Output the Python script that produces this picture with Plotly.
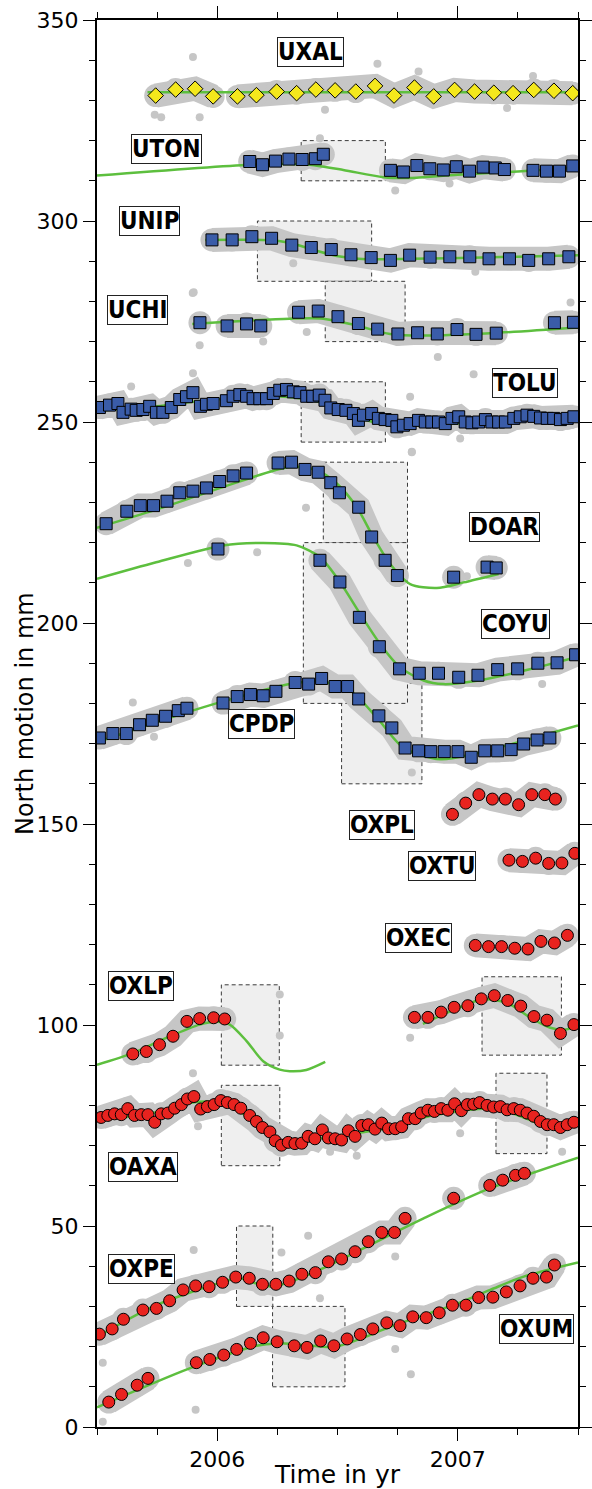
import plotly.graph_objects as go

# ---------------- data (time in yr, north motion in mm) ----------------
uxal_t = [2005.744, 2005.827, 2005.908, 2005.983, 2006.084, 2006.163, 2006.247, 2006.330, 2006.410, 2006.490, 2006.576,
          2006.656, 2006.735, 2006.820, 2006.900, 2006.987, 2007.070, 2007.150, 2007.230, 2007.316, 2007.400, 2007.478]
uxal_v = [331.2, 332.7, 332.9, 331.0, 331.0, 331.3, 332.2, 331.8, 332.7, 332.5, 332.2,
          333.6, 331.2, 333.2, 331.0, 332.6, 332.2, 331.9, 331.8, 332.6, 332.4, 331.8]
uxal_fit_t = [2005.71, 2007.5]
uxal_fit_v = [332.0, 332.0]

uton_t = [2006.135, 2006.188, 2006.242, 2006.298, 2006.353, 2006.408, 2006.441, 2006.720, 2006.774, 2006.830, 2006.884,
          2006.940, 2006.994, 2007.049, 2007.105, 2007.156, 2007.194, 2007.313, 2007.369, 2007.423, 2007.478]
uton_v = [314.8, 314.0, 314.9, 315.4, 315.3, 315.5, 316.6, 312.6, 312.2, 313.8, 313.0,
          312.7, 313.5, 312.4, 313.4, 313.2, 312.8, 312.6, 312.4, 312.4, 313.7]
uton_fit_t = [2005.5, 2006.135, 2006.30, 2006.385, 2006.524, 2006.691, 2006.81, 2007.00, 2007.25, 2007.5]
uton_fit_v = [311.3, 314.0, 314.2, 314.0, 312.7, 310.9, 310.7, 311.5, 312.3, 313.3]

unip_t = [2005.978, 2006.062, 2006.144, 2006.226, 2006.310, 2006.391, 2006.474, 2006.556, 2006.640, 2006.720,
          2006.800, 2006.885, 2006.967, 2007.050, 2007.130, 2007.215, 2007.295, 2007.378, 2007.462]
unip_v = [295.3, 295.3, 296.1, 295.7, 294.0, 293.4, 292.9, 291.6, 290.9, 290.2,
          291.5, 291.0, 291.1, 291.1, 290.6, 290.6, 290.2, 290.6, 291.1]
unip_fit_t = [2005.95, 2006.247, 2006.33, 2006.413, 2006.497, 2006.62, 2006.80, 2007.10, 2007.5]
unip_fit_v = [295.3, 295.1, 294.1, 292.6, 291.3, 290.5, 290.6, 290.9, 291.5]

uchi_t = [2005.928, 2006.041, 2006.122, 2006.181, 2006.338, 2006.420, 2006.502, 2006.587, 2006.667, 2006.751,
          2006.833, 2006.915, 2006.997, 2007.076, 2007.160, 2007.402, 2007.481]
uchi_v = [274.7, 273.9, 274.4, 273.9, 277.3, 277.6, 276.2, 274.5, 273.1, 271.9,
          272.2, 271.9, 273.0, 271.8, 272.1, 274.7, 274.8]
uchi_fit_t = [2005.896, 2006.30, 2006.441, 2006.58, 2006.719, 2006.858, 2007.17, 2007.5]
uchi_fit_v = [274.4, 275.7, 275.7, 274.0, 271.9, 271.5, 272.2, 273.5]

tolu_t = [2005.510, 2005.552, 2005.587, 2005.608, 2005.642, 2005.663, 2005.691, 2005.719, 2005.747, 2005.774,
          2005.809, 2005.844, 2005.872, 2005.899, 2005.930, 2005.955, 2005.983, 2006.038, 2006.066, 2006.094,
          2006.122, 2006.149, 2006.177, 2006.205, 2006.233, 2006.260, 2006.288, 2006.316, 2006.344, 2006.372,
          2006.397, 2006.424, 2006.448, 2006.472, 2006.503, 2006.535, 2006.566, 2006.587, 2006.608, 2006.642,
          2006.670, 2006.698, 2006.726, 2006.747, 2006.774, 2006.802, 2006.837, 2006.865, 2006.892, 2006.920,
          2006.948, 2006.976, 2007.004, 2007.031, 2007.059, 2007.087, 2007.115, 2007.142, 2007.170, 2007.198,
          2007.233, 2007.260, 2007.288, 2007.316, 2007.344, 2007.372, 2007.399, 2007.427, 2007.455, 2007.483]
tolu_v = [253.6, 254.2, 254.6, 252.4, 253.2, 252.9, 253.1, 253.9, 252.4, 252.4,
          253.6, 255.6, 256.3, 257.3, 253.9, 254.4, 254.6, 255.3, 256.4, 256.8,
          256.4, 255.8, 255.8, 255.8, 257.1, 257.9, 258.1, 257.5, 257.3, 256.4,
          256.4, 256.7, 255.4, 253.5, 253.1, 252.9, 252.1, 250.4, 251.7, 252.1,
          250.9, 250.6, 250.4, 248.8, 249.2, 249.6, 250.4, 250.0, 250.0, 250.0,
          249.6, 250.9, 251.3, 250.0, 249.8, 250.0, 250.6, 250.0, 250.0, 250.0,
          250.9, 251.3, 251.7, 251.4, 251.0, 250.9, 250.9, 250.6, 250.9, 251.3]
tolu_fit_t = [2005.5, 2005.747, 2005.955, 2006.233, 2006.358, 2006.469, 2006.580, 2006.691, 2006.788, 2006.997, 2007.274, 2007.5]
tolu_fit_v = [252.8, 253.9, 255.4, 256.4, 255.8, 254.2, 251.3, 249.4, 249.1, 249.6, 250.9, 252.1]

doar_t = [2005.538, 2005.624, 2005.680, 2005.735, 2005.791, 2005.844, 2005.899, 2005.955, 2006.010, 2006.066,
          2006.122, 2006.253, 2006.309, 2006.365, 2006.420, 2006.472, 2006.508, 2006.588, 2006.642, 2006.698,
          2006.749, 2006.983, 2007.122, 2007.160]
doar_v = [224.7, 227.8, 229.2, 229.2, 230.3, 232.4, 232.8, 233.6, 235.2, 236.6,
          237.3, 239.8, 240.0, 238.2, 237.5, 234.9, 232.4, 228.8, 221.4, 215.6,
          211.8, 211.4, 213.9, 213.7]
doar_fit_t = [2005.5, 2005.746, 2006.024, 2006.302, 2006.413, 2006.497, 2006.580, 2006.649, 2006.719, 2006.802, 2006.913, 2007.024, 2007.170]
doar_fit_v = [223.7, 228.2, 233.8, 238.8, 238.0, 234.7, 228.8, 221.4, 214.7, 209.7, 208.7, 210.1, 212.2]

coyu_t = [2006.003, 2006.427, 2006.510, 2006.591, 2006.674, 2006.758, 2006.840, 2006.920, 2007.004, 2007.084,
          2007.166, 2007.249, 2007.333, 2007.413, 2007.490]
coyu_v = [218.4, 215.6, 210.2, 201.4, 194.1, 188.6, 187.5, 187.5, 186.5, 187.0,
          188.4, 188.6, 190.0, 190.1, 192.1]
coyu_fit_t = [2005.5, 2005.746, 2006.024, 2006.191, 2006.330, 2006.427, 2006.510, 2006.594, 2006.677, 2006.760, 2006.858, 2006.941, 2007.066, 2007.274, 2007.5]
coyu_fit_v = [211.0, 215.1, 219.3, 219.9, 219.3, 216.4, 210.2, 202.3, 194.8, 189.0, 185.7, 184.8, 185.5, 188.1, 191.6]

cpdp_t = [2005.510, 2005.566, 2005.622, 2005.677, 2005.730, 2005.785, 2005.838, 2005.874, 2006.024, 2006.083,
          2006.138, 2006.191, 2006.244, 2006.324, 2006.380, 2006.434, 2006.490, 2006.542, 2006.588, 2006.672,
          2006.726, 2006.781, 2006.837, 2006.888, 2006.944, 2007.001, 2007.056, 2007.112, 2007.166, 2007.222,
          2007.274, 2007.330, 2007.383]
cpdp_v = [171.4, 172.5, 172.5, 174.7, 175.8, 176.8, 178.2, 178.8, 180.1, 181.7,
          182.2, 181.9, 183.0, 185.2, 184.8, 186.2, 184.2, 184.2, 181.1, 176.9,
          173.9, 168.9, 168.2, 168.0, 168.0, 168.0, 166.6, 168.2, 168.2, 168.5,
          169.9, 170.9, 171.4]
cpdp_fit_t = [2005.5, 2005.746, 2006.024, 2006.302, 2006.427, 2006.552, 2006.663, 2006.774, 2006.927, 2007.066, 2007.274, 2007.5]
cpdp_fit_v = [170.3, 175.3, 180.5, 184.8, 185.5, 183.2, 176.5, 169.0, 166.1, 167.4, 170.7, 174.5]

oxpl_t = [2006.978, 2007.033, 2007.088, 2007.144, 2007.198, 2007.253, 2007.308, 2007.362, 2007.406]
oxpl_v = [152.4, 155.2, 157.3, 156.2, 156.2, 154.8, 157.3, 157.3, 156.2]

oxtu_t = [2007.213, 2007.269, 2007.324, 2007.378, 2007.433, 2007.487]
oxtu_v = [141.0, 140.7, 141.5, 140.2, 140.3, 142.7]

oxec_t = [2007.073, 2007.128, 2007.182, 2007.237, 2007.292, 2007.346, 2007.402, 2007.456]
oxec_v = [119.8, 119.5, 119.5, 119.1, 118.9, 120.8, 120.4, 122.3]

oxlp_t = [2005.649, 2005.705, 2005.760, 2005.816, 2005.874, 2005.927, 2005.985, 2006.031,
          2006.820, 2006.876, 2006.931, 2006.985, 2007.042, 2007.098, 2007.152, 2007.208, 2007.262,
          2007.317, 2007.371, 2007.427, 2007.483]
oxlp_v = [92.8, 93.4, 95.1, 97.2, 100.9, 101.6, 101.8, 101.5,
          101.9, 101.9, 103.2, 104.4, 104.8, 106.5, 107.3, 106.1, 104.7,
          102.1, 101.2, 97.9, 100.1]
oxlp_fit1_t = [2005.5, 2005.649, 2005.788, 2005.927, 2005.997, 2006.052, 2006.122, 2006.191, 2006.260, 2006.302, 2006.370, 2006.449]
oxlp_fit1_v = [90.1, 93.0, 96.8, 100.1, 100.8, 100.1, 96.0, 91.0, 88.9, 88.5, 88.8, 90.8]
oxlp_fit2_t = [2006.855, 2006.969, 2007.094, 2007.149, 2007.219, 2007.302, 2007.385, 2007.441, 2007.5]
oxlp_fit2_v = [100.3, 103.4, 106.3, 106.3, 105.1, 101.8, 99.3, 98.8, 99.7]

oaxa_t = [2005.517, 2005.545, 2005.573, 2005.601, 2005.628, 2005.656, 2005.684, 2005.712, 2005.740, 2005.767,
          2005.795, 2005.823, 2005.851, 2005.876, 2005.903, 2005.931, 2005.959, 2005.987, 2006.015, 2006.042,
          2006.070, 2006.098, 2006.135, 2006.163, 2006.188, 2006.219, 2006.241, 2006.267, 2006.295, 2006.323,
          2006.351, 2006.378, 2006.406, 2006.437, 2006.462, 2006.490, 2006.517, 2006.545, 2006.573, 2006.601,
          2006.628, 2006.656, 2006.684, 2006.712, 2006.740, 2006.767, 2006.795, 2006.823, 2006.848, 2006.876,
          2006.903, 2006.931, 2006.959, 2006.987, 2007.015, 2007.040, 2007.066, 2007.091, 2007.122, 2007.149,
          2007.177, 2007.205, 2007.233, 2007.260, 2007.288, 2007.316, 2007.344, 2007.372, 2007.399, 2007.427,
          2007.455, 2007.483]
oaxa_v = [77.0, 77.5, 77.9, 77.7, 79.2, 77.5, 77.7, 77.7, 75.8, 77.9,
          78.1, 79.3, 80.2, 81.6, 82.2, 79.1, 79.7, 80.2, 81.2, 80.7,
          80.2, 79.3, 77.5, 76.0, 74.5, 73.4, 71.2, 70.1, 70.8, 70.5,
          70.6, 72.3, 71.7, 73.9, 71.9, 71.7, 71.4, 73.7, 72.3, 75.0,
          75.2, 74.1, 75.6, 74.2, 74.2, 74.7, 76.7, 76.7, 78.1, 78.8,
          78.5, 79.2, 78.8, 80.4, 78.7, 80.2, 80.3, 80.7, 80.0, 79.6,
          79.7, 78.9, 79.2, 78.8, 78.1, 77.3, 76.0, 75.2, 75.2, 74.5,
          75.2, 75.8]
oaxa_fit_t = [2005.5, 2005.747, 2005.885, 2005.997, 2006.066, 2006.163, 2006.247, 2006.330, 2006.441, 2006.580, 2006.719,
              2006.858, 2006.997, 2007.135, 2007.205, 2007.274, 2007.344, 2007.413, 2007.5]
oaxa_fit_v = [76.2, 78.3, 80.6, 80.8, 79.7, 75.2, 71.4, 71.0, 71.9, 73.1, 74.5,
              77.0, 78.5, 79.2, 78.5, 77.0, 75.4, 75.2, 75.8]

oxpe_t = [2005.510, 2005.563, 2005.610, 2005.691, 2005.747, 2005.802, 2005.858, 2005.910, 2005.966, 2006.022,
          2006.077, 2006.133, 2006.188, 2006.244, 2006.299, 2006.352, 2006.408, 2006.462, 2006.517, 2006.573,
          2006.628, 2006.684, 2006.737, 2006.781, 2006.983, 2007.133, 2007.187, 2007.240, 2007.277]
oxpe_v = [23.1, 24.4, 26.8, 29.1, 29.5, 31.4, 34.1, 35.1, 34.9, 36.0,
          37.3, 37.0, 35.5, 35.5, 36.3, 38.0, 38.4, 41.1, 41.8, 43.6,
          46.1, 48.4, 48.4, 51.9, 56.9, 60.1, 61.4, 62.6, 63.1]
oxpe_fit_t = [2005.5, 2005.746, 2006.024, 2006.094, 2006.163, 2006.233, 2006.302, 2006.441, 2006.580, 2006.719, 2006.858, 2007.135, 2007.5]
oxpe_fit_v = [22.4, 30.3, 36.1, 37.0, 35.7, 34.9, 36.1, 39.5, 43.6, 47.8, 51.9, 59.4, 67.0]

oxum_t = [2005.549, 2005.602, 2005.667, 2005.712, 2005.913, 2005.969, 2006.027, 2006.081, 2006.138, 2006.191,
          2006.249, 2006.320, 2006.373, 2006.430, 2006.485, 2006.540, 2006.595, 2006.647, 2006.705, 2006.760,
          2006.813, 2006.869, 2006.923, 2006.978, 2007.034, 2007.087, 2007.146, 2007.202, 2007.259, 2007.313,
          2007.369, 2007.402]
oxum_v = [6.2, 8.1, 10.4, 12.1, 16.0, 16.8, 17.9, 19.3, 20.8, 22.2,
          21.2, 20.2, 19.8, 21.4, 20.2, 21.9, 23.0, 24.4, 25.9, 25.2,
          27.4, 27.2, 28.4, 30.3, 30.3, 32.2, 32.3, 33.6, 35.1, 37.0,
          37.3, 40.3]
oxum_fit_t = [2005.5, 2005.885, 2006.163, 2006.247, 2006.358, 2006.483, 2006.580, 2006.719, 2006.858, 2006.997, 2007.135, 2007.274, 2007.5]
oxum_fit_v = [4.9, 14.6, 20.2, 20.8, 20.4, 19.9, 21.6, 24.9, 27.8, 30.7, 34.1, 37.4, 40.9]

# isolated daily solutions lying away from the main clouds
outlier_t = [2005.899, 2005.740, 2005.767, 2005.927, 2006.666, 2006.837, 2006.448, 2007.313, 2007.205,
             2006.427, 2006.740, 2006.966,
             2005.898, 2007.073, 2006.316,
             2005.902, 2005.927, 2006.372, 2006.917, 2007.469, 2006.191,
             2005.899, 2005.642, 2006.802, 2007.066, 2006.809, 2007.010,
             2006.369, 2005.878, 2006.166, 2006.809, 2007.038,
             2005.737, 2006.809, 2007.351, 2005.649,
             2006.260, 2006.260, 2006.802,
             2005.899, 2005.920, 2006.469, 2006.580, 2007.010, 2007.434,
             2005.902, 2006.378, 2006.740, 2006.427, 2006.267,
             2005.524, 2005.910, 2006.805, 2006.740, 2005.524]
outlier_v = [340.8, 326.4, 325.8, 325.8, 339.1, 337.2, 327.7, 336.1, 328.1,
             320.6, 307.6, 309.3,
             282.1, 287.4, 289.5,
             282.3, 269.1, 272.4, 266.2, 279.7, 270.0,
             262.1, 258.8, 256.3, 261.9, 242.6, 245.9,
             228.7, 214.9, 217.6, 242.5, 211.6,
             171.7, 162.8, 184.8, 180.2,
             107.6, 97.4, 96.8,
             88.0, 74.8, 68.5, 67.5, 73.1, 68.5,
             44.0, 47.6, 42.4, 32.0, 43.4,
             16.0, 4.3, 13.1, 19.4, 1.3]

# station name labels: (name, time, mm)
label_names = ["UXAL", "UTON", "UNIP", "UCHI", "TOLU", "DOAR", "COYU", "CPDP",
               "OXPL", "OXTU", "OXEC", "OXLP", "OAXA", "OXPE", "OXUM"]
label_t = [2006.386, 2005.788, 2005.719, 2005.670, 2007.281, 2007.195, 2007.240, 2006.184,
           2006.683, 2006.935, 2006.838, 2005.681, 2005.691, 2005.685, 2007.327]
label_v = [342.1, 318.0, 300.0, 277.8, 259.8, 223.8, 199.8, 174.8,
           149.7, 139.6, 121.6, 109.6, 64.7, 39.4, 24.4]

# shaded time windows: start, end, low, high  (order = drawing order)
win_t0 = [2006.349, 2006.167, 2006.449, 2006.349, 2006.441, 2006.517, 2006.358, 2006.017, 2007.101, 2006.017, 2007.159, 2006.080, 2006.230]
win_t1 = [2006.699, 2006.642, 2006.781, 2006.699, 2006.791, 2006.851, 2006.791, 2006.258, 2007.431, 2006.260, 2007.371, 2006.231, 2006.531]
win_lo = [310, 285, 270, 245, 220, 160, 180, 90, 92.5, 65, 68, 30, 10]
win_hi = [320, 300, 285, 260, 240, 185, 220, 110, 112, 85, 88, 50, 30]

# ---------------- figure ----------------
GRAY = "#c6c6c6"
GREEN = "#5dbf3e"
STY = {
    "diamond": dict(symbol="diamond", size=12, color="#f4e81c"),
    "square": dict(symbol="square", size=12, color="#3a5ca8"),
    "circle": dict(symbol="circle", size=12, color="#e8231f"),
}

series = [
    (uxal_t, uxal_v, "diamond"), (uton_t, uton_v, "square"), (unip_t, unip_v, "square"),
    (uchi_t, uchi_v, "square"), (tolu_t, tolu_v, "square"), (doar_t, doar_v, "square"),
    (coyu_t, coyu_v, "square"), (cpdp_t, cpdp_v, "square"), (oxpl_t, oxpl_v, "circle"),
    (oxtu_t, oxtu_v, "circle"), (oxec_t, oxec_v, "circle"), (oxlp_t, oxlp_v, "circle"),
    (oaxa_t, oaxa_v, "circle"), (oxpe_t, oxpe_v, "circle"), (oxum_t, oxum_v, "circle"),
]
fits = [
    (uxal_fit_t, uxal_fit_v), (uton_fit_t, uton_fit_v), (unip_fit_t, unip_fit_v), (uchi_fit_t, uchi_fit_v),
    (tolu_fit_t, tolu_fit_v), (doar_fit_t, doar_fit_v), (coyu_fit_t, coyu_fit_v), (cpdp_fit_t, cpdp_fit_v),
    (oxlp_fit1_t, oxlp_fit1_v), (oxlp_fit2_t, oxlp_fit2_v), (oaxa_fit_t, oaxa_fit_v),
    (oxpe_fit_t, oxpe_fit_v), (oxum_fit_t, oxum_fit_v),
]

fig = go.Figure()


def with_gaps(t, v, gap=0.1):
    xs, ys = [], []
    for i, (a, b) in enumerate(zip(t, v)):
        if i > 0 and a - t[i - 1] > gap:
            xs.append(None)
            ys.append(None)
        xs.append(a)
        ys.append(b)
    return xs, ys


# scatter cloud of daily solutions (gray)
fig.add_trace(go.Scatter(x=outlier_t, y=outlier_v, mode="markers",
                         marker=dict(color=GRAY, size=8, line=dict(width=0)),
                         hoverinfo="skip", showlegend=False))
for t, v, kind in series:
    xs, ys = with_gaps(t, v)
    fig.add_trace(go.Scatter(x=xs, y=ys, mode="lines+markers", connectgaps=False,
                             line=dict(color=GRAY, width=24),
                             marker=dict(color=GRAY, size=23, symbol="circle", line=dict(width=0)),
                             hoverinfo="skip", showlegend=False))

# model fits
for t, v in fits:
    fig.add_trace(go.Scatter(x=t, y=v, mode="lines", line=dict(color=GREEN, width=2.5, shape="spline", smoothing=0.8),
                             hoverinfo="skip", showlegend=False))

# averaged positions
for t, v, kind in series:
    s = STY[kind]
    fig.add_trace(go.Scatter(x=t, y=v, mode="markers",
                             marker=dict(symbol=s["symbol"], size=s["size"], color=s["color"],
                                         line=dict(color="black", width=1)),
                             showlegend=False))

for a, b, lo, hi in zip(win_t0, win_t1, win_lo, win_hi):
    fig.add_shape(type="rect", xref="x", yref="y", x0=a, x1=b, y0=lo, y1=hi, layer="below",
                  fillcolor="#efefef", line=dict(color="#3a3a3a", width=1, dash="4px,3px"))

for name, t, v in zip(label_names, label_t, label_v):
    fig.add_annotation(x=t, y=v, xref="x", yref="y", text="<b>" + name + "</b>", showarrow=False,
                       font=dict(family="Liberation Sans Narrow, Arial Narrow, DejaVu Sans Condensed, sans-serif",
                                 size=24, color="black"),
                       bgcolor="white", bordercolor="#222", borderwidth=1, borderpad=0)

# y-axis title placed as rotated text
fig.add_annotation(x=-0.151, y=0.507, xref="paper", yref="paper", text="North motion in mm", textangle=-90,
                   showarrow=False, xanchor="center", yanchor="middle",
                   font=dict(family="DejaVu Sans, sans-serif", size=24, color="black"))

AX_FONT = dict(family="DejaVu Sans, sans-serif", size=22, color="black")
fig.update_layout(
    width=592, height=1489,
    margin=dict(l=97, r=14, t=20, b=62, autoexpand=False),
    paper_bgcolor="white", plot_bgcolor="white",
    xaxis=dict(range=[2005.5, 2007.5], tickmode="array", tickvals=[2006, 2007], ticktext=["2006", "2007"],
               ticks="outside", ticklen=12, tickwidth=1, tickcolor="black", showline=True, linewidth=2,
               linecolor="black", mirror="allticks", showgrid=False, zeroline=False, tickfont=AX_FONT,
               automargin=False,
               minor=dict(dtick=0.25, tick0=2005.5, ticks="outside", ticklen=6, tickcolor="black", showgrid=False),
               title=dict(text="Time in yr", font=dict(family="DejaVu Sans, sans-serif", size=25, color="black"),
                          standoff=2)),
    yaxis=dict(range=[0, 350], dtick=50, tick0=0, ticks="outside", ticklen=12, tickwidth=1, tickcolor="black",
               showline=True, linewidth=2, linecolor="black", mirror="allticks", showgrid=False, zeroline=False,
               tickfont=AX_FONT, automargin=False,
               minor=dict(dtick=10, tick0=0, ticks="outside", ticklen=6, tickcolor="black", showgrid=False)),
)

fig.write_html("out.html")
